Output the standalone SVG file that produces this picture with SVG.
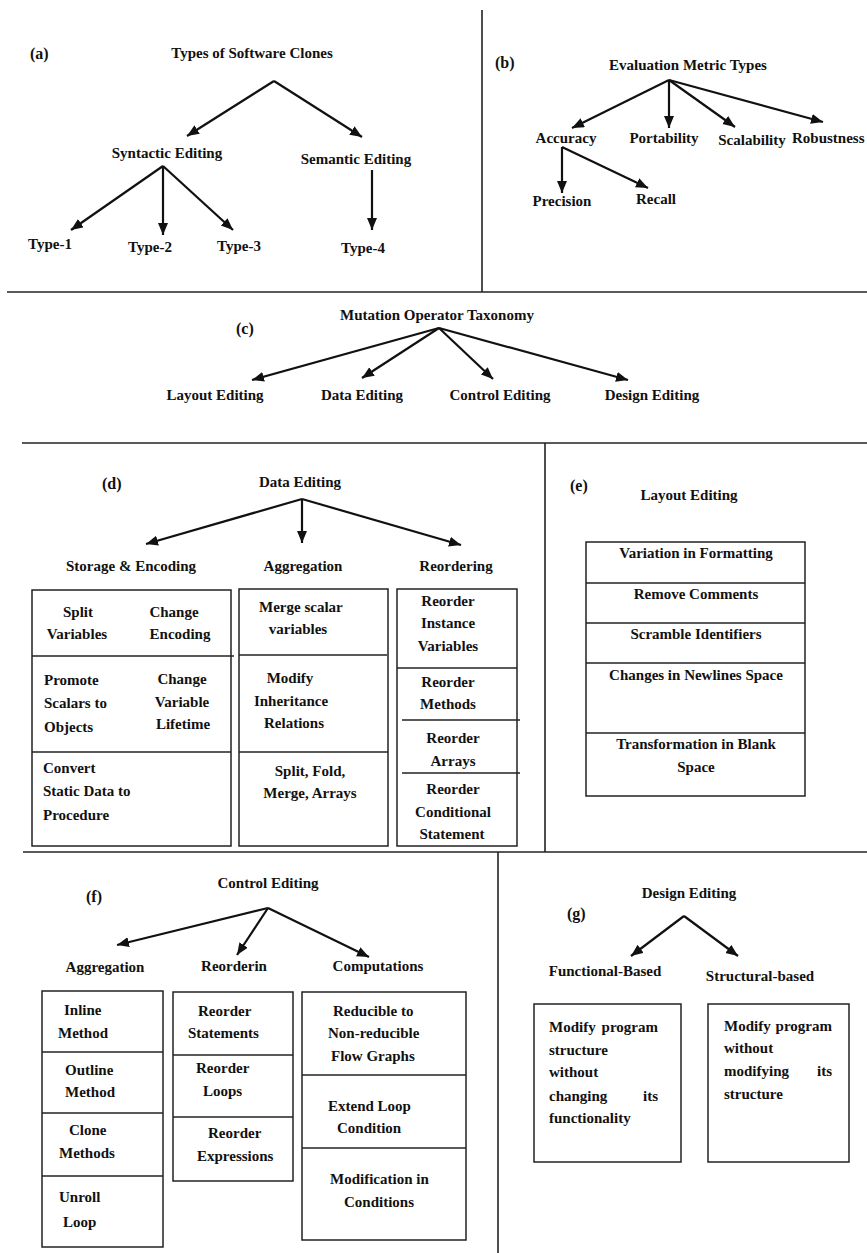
<svg xmlns="http://www.w3.org/2000/svg" width="867" height="1253" viewBox="0 0 867 1253">
  <style>
    text { font-family: "Liberation Serif", "Times New Roman", serif; font-weight: bold; font-size: 15px; fill: #111; }
    .lbl { font-size: 16px; }
    .m { text-anchor: middle; }
    .e { text-anchor: end; }
    .frame { stroke: #222; stroke-width: 1.6; fill: none; }
    .box { stroke: #222; stroke-width: 1.5; fill: none; }
    .sep { stroke: #222; stroke-width: 1.5; }
    .arrow { stroke: #111; stroke-width: 2.2; fill: none; marker-end: url(#head); }
  </style>
  <defs>
    <marker id="head" markerUnits="userSpaceOnUse" markerWidth="13" markerHeight="11" refX="12" refY="5" orient="auto">
      <path d="M0,0 L12,5 L0,10 z" fill="#111"/>
    </marker>
  </defs>
  <rect width="867" height="1253" fill="#fff"/>

  <!-- panel dividers -->
  <g id="dividers">
    <line class="frame" x1="7" y1="292" x2="867" y2="292"/>
    <line class="frame" x1="482" y1="10" x2="482" y2="292"/>
    <line class="frame" x1="22" y1="443" x2="867" y2="443"/>
    <line class="frame" x1="545" y1="443" x2="545" y2="852"/>
    <line class="frame" x1="23" y1="852" x2="867" y2="852"/>
    <line class="frame" x1="498" y1="852" x2="498" y2="1253"/>
  </g>

  <!-- panel labels -->
  <g id="panel-labels">
    <text class="lbl" x="30" y="59">(a)</text>
    <text class="lbl" x="495" y="68">(b)</text>
    <text class="lbl" x="236" y="334">(c)</text>
    <text class="lbl" x="102" y="489">(d)</text>
    <text class="lbl" x="570" y="491">(e)</text>
    <text class="lbl" x="86" y="902">(f)</text>
    <text class="lbl" x="567" y="919">(g)</text>
  </g>

  <!-- connectors -->
  <g id="connectors">
    <!-- (a) -->
    <line class="arrow" x1="274" y1="81" x2="187" y2="136"/>
    <line class="arrow" x1="274" y1="81" x2="362" y2="137"/>
    <line class="arrow" x1="163" y1="166" x2="71" y2="230"/>
    <line class="arrow" x1="163" y1="166" x2="163" y2="235"/>
    <line class="arrow" x1="163" y1="166" x2="233" y2="230"/>
    <line class="arrow" x1="372" y1="170" x2="372" y2="230"/>
    <!-- (b) -->
    <line class="arrow" x1="669" y1="80" x2="572" y2="128"/>
    <line class="arrow" x1="669" y1="80" x2="669" y2="128"/>
    <line class="arrow" x1="669" y1="80" x2="735" y2="127"/>
    <line class="arrow" x1="669" y1="80" x2="823" y2="122"/>
    <line class="arrow" x1="562" y1="147" x2="562" y2="193"/>
    <line class="arrow" x1="562" y1="147" x2="648" y2="188"/>
    <!-- (c) -->
    <line class="arrow" x1="439" y1="328" x2="252" y2="380"/>
    <line class="arrow" x1="439" y1="328" x2="362" y2="378"/>
    <line class="arrow" x1="439" y1="328" x2="493" y2="379"/>
    <line class="arrow" x1="439" y1="328" x2="628" y2="380"/>
    <!-- (d) -->
    <line class="arrow" x1="302" y1="499" x2="146" y2="544"/>
    <line class="arrow" x1="302" y1="499" x2="302" y2="543"/>
    <line class="arrow" x1="302" y1="499" x2="461" y2="545"/>
    <!-- (f) -->
    <line class="arrow" x1="268" y1="908" x2="117" y2="945"/>
    <line class="arrow" x1="268" y1="908" x2="237" y2="955"/>
    <line class="arrow" x1="268" y1="908" x2="369" y2="957"/>
    <!-- (g) -->
    <line class="arrow" x1="684" y1="916" x2="631" y2="956"/>
    <line class="arrow" x1="684" y1="916" x2="738" y2="956"/>
  </g>

  <!-- (a) Types of Software Clones -->
  <g id="clone-types">
    <text class="m" x="252" y="58">Types of Software Clones</text>
  </g>
  <g id="syntactic-editing"><text class="m" x="167" y="158">Syntactic Editing</text></g>
  <g id="semantic-editing"><text class="m" x="356" y="164">Semantic Editing</text></g>
  <g id="type-1"><text class="m" x="50" y="249">Type-1</text></g>
  <g id="type-2"><text class="m" x="150" y="252">Type-2</text></g>
  <g id="type-3"><text class="m" x="239" y="251">Type-3</text></g>
  <g id="type-4"><text class="m" x="363" y="253">Type-4</text></g>

  <!-- (b) Evaluation Metric Types -->
  <g id="metric-types"><text class="m" x="688" y="70">Evaluation Metric Types</text></g>
  <g id="accuracy"><text class="m" x="566" y="143">Accuracy</text></g>
  <g id="portability"><text class="m" x="664" y="143">Portability</text></g>
  <g id="scalability"><text class="m" x="752" y="145">Scalability</text></g>
  <g id="robustness"><text x="792" y="143">Robustness</text></g>
  <g id="precision"><text class="m" x="562" y="206">Precision</text></g>
  <g id="recall"><text class="m" x="656" y="204">Recall</text></g>

  <!-- (c) Mutation Operator Taxonomy -->
  <g id="taxonomy"><text class="m" x="437" y="320">Mutation Operator Taxonomy</text></g>
  <g id="tax-layout"><text class="m" x="215" y="400">Layout Editing</text></g>
  <g id="tax-data"><text class="m" x="362" y="400">Data Editing</text></g>
  <g id="tax-control"><text class="m" x="500" y="400">Control Editing</text></g>
  <g id="tax-design"><text class="m" x="652" y="400">Design Editing</text></g>

  <!-- (d) Data Editing -->
  <g id="data-editing"><text class="m" x="300" y="487">Data Editing</text></g>
  <g id="storage-encoding">
    <text class="m" x="131" y="571">Storage &amp; Encoding</text>
    <rect class="box" x="32" y="590" width="199" height="256"/>
    <line class="sep" x1="32" y1="656" x2="234" y2="656"/>
    <line class="sep" x1="32" y1="752" x2="231" y2="752"/>
    <text class="m" x="78" y="617">Split</text>
    <text class="m" x="77" y="639">Variables</text>
    <text class="m" x="174" y="617">Change</text>
    <text class="m" x="180" y="639">Encoding</text>
    <text x="44" y="685">Promote</text>
    <text x="44" y="708">Scalars to</text>
    <text x="44" y="732">Objects</text>
    <text class="m" x="182" y="684">Change</text>
    <text class="m" x="182" y="707">Variable</text>
    <text class="m" x="183" y="729">Lifetime</text>
    <text x="43" y="773">Convert</text>
    <text x="43" y="796">Static Data to</text>
    <text x="43" y="820">Procedure</text>
  </g>
  <g id="data-aggregation">
    <text class="m" x="303" y="571">Aggregation</text>
    <rect class="box" x="239" y="589" width="149" height="257"/>
    <line class="sep" x1="239" y1="655" x2="387" y2="655"/>
    <line class="sep" x1="239" y1="752" x2="388" y2="752"/>
    <text x="259" y="612">Merge scalar</text>
    <text class="m" x="298" y="634">variables</text>
    <text class="m" x="290" y="683">Modify</text>
    <text class="m" x="291" y="706">Inheritance</text>
    <text class="m" x="294" y="728">Relations</text>
    <text class="m" x="310" y="776">Split, Fold,</text>
    <text class="m" x="310" y="798">Merge, Arrays</text>
  </g>
  <g id="data-reordering">
    <text class="m" x="456" y="571">Reordering</text>
    <rect class="box" x="397" y="589" width="120" height="257"/>
    <line class="sep" x1="397" y1="668" x2="517" y2="668"/>
    <line class="sep" x1="402" y1="720" x2="520" y2="720" stroke-width="2"/>
    <line class="sep" x1="402" y1="773" x2="520" y2="773" stroke-width="2"/>
    <text class="m" x="448" y="606">Reorder</text>
    <text class="m" x="448" y="628">Instance</text>
    <text class="m" x="448" y="651">Variables</text>
    <text class="m" x="448" y="687">Reorder</text>
    <text class="m" x="448" y="709">Methods</text>
    <text class="m" x="453" y="743">Reorder</text>
    <text class="m" x="453" y="766">Arrays</text>
    <text class="m" x="453" y="794">Reorder</text>
    <text class="m" x="453" y="817">Conditional</text>
    <text class="m" x="452" y="839">Statement</text>
  </g>

  <!-- (e) Layout Editing -->
  <g id="layout-editing">
    <text class="m" x="689" y="500">Layout Editing</text>
    <rect class="box" x="586" y="542" width="219" height="254"/>
    <line class="sep" x1="586" y1="583" x2="805" y2="583"/>
    <line class="sep" x1="586" y1="623" x2="805" y2="623"/>
    <line class="sep" x1="586" y1="663" x2="805" y2="663"/>
    <line class="sep" x1="586" y1="733" x2="805" y2="733"/>
    <text class="m" x="696" y="558">Variation in Formatting</text>
    <text class="m" x="696" y="599">Remove Comments</text>
    <text class="m" x="696" y="639">Scramble Identifiers</text>
    <text class="m" x="696" y="680">Changes in Newlines Space</text>
    <text class="m" x="696" y="749">Transformation in Blank</text>
    <text class="m" x="696" y="772">Space</text>
  </g>

  <!-- (f) Control Editing -->
  <g id="control-editing"><text class="m" x="268" y="888">Control Editing</text></g>
  <g id="control-aggregation">
    <text class="m" x="105" y="972">Aggregation</text>
    <rect class="box" x="42" y="991" width="121" height="256"/>
    <line class="sep" x1="42" y1="1052" x2="163" y2="1052" stroke-width="2"/>
    <line class="sep" x1="42" y1="1113" x2="163" y2="1113"/>
    <line class="sep" x1="42" y1="1176" x2="163" y2="1176"/>
    <text x="64" y="1015">Inline</text>
    <text x="58" y="1038">Method</text>
    <text x="65" y="1075">Outline</text>
    <text x="65" y="1097">Method</text>
    <text x="69" y="1135">Clone</text>
    <text x="59" y="1158">Methods</text>
    <text x="59" y="1202">Unroll</text>
    <text x="63" y="1227">Loop</text>
  </g>
  <g id="control-reordering">
    <text class="m" x="234" y="971">Reorderin</text>
    <rect class="box" x="173" y="992" width="120" height="189"/>
    <line class="sep" x1="173" y1="1055" x2="293" y2="1055"/>
    <line class="sep" x1="173" y1="1117" x2="293" y2="1117"/>
    <text x="198" y="1016">Reorder</text>
    <text x="188" y="1038">Statements</text>
    <text x="196" y="1073">Reorder</text>
    <text x="203" y="1096">Loops</text>
    <text x="208" y="1138">Reorder</text>
    <text x="197" y="1161">Expressions</text>
  </g>
  <g id="control-computations">
    <text class="m" x="378" y="971">Computations</text>
    <rect class="box" x="302" y="992" width="164" height="248"/>
    <line class="sep" x1="302" y1="1075" x2="466" y2="1075"/>
    <line class="sep" x1="302" y1="1148" x2="466" y2="1148"/>
    <text x="333" y="1016">Reducible to</text>
    <text x="328" y="1038">Non-reducible</text>
    <text x="331" y="1061">Flow Graphs</text>
    <text x="328" y="1111">Extend Loop</text>
    <text x="337" y="1133">Condition</text>
    <text x="330" y="1184">Modification in</text>
    <text x="344" y="1207">Conditions</text>
  </g>

  <!-- (g) Design Editing -->
  <g id="design-editing"><text class="m" x="689" y="898">Design Editing</text></g>
  <g id="functional-based">
    <text class="m" x="605" y="976">Functional-Based</text>
    <rect class="box" x="534" y="1004" width="147" height="158"/>
    <text x="549" y="1032">Modify</text>
    <text class="e" x="658" y="1032">program</text>
    <text x="549" y="1055">structure</text>
    <text x="549" y="1077">without</text>
    <text x="549" y="1101">changing</text>
    <text class="e" x="658" y="1101">its</text>
    <text x="549" y="1123">functionality</text>
  </g>
  <g id="structural-based">
    <text class="m" x="760" y="981">Structural-based</text>
    <rect class="box" x="708" y="1004" width="141" height="158"/>
    <text x="724" y="1031">Modify</text>
    <text class="e" x="832" y="1031">program</text>
    <text x="724" y="1053">without</text>
    <text x="724" y="1076">modifying</text>
    <text class="e" x="832" y="1076">its</text>
    <text x="724" y="1099">structure</text>
  </g>
</svg>
